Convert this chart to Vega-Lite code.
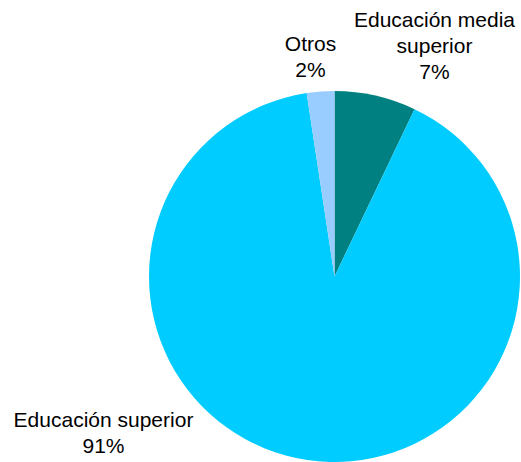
{
  "$schema": "https://vega.github.io/schema/vega-lite/v6.json",
  "width": 371,
  "height": 371,
  "autosize": {"type": "none"},
  "padding": {"left": 149, "top": 91, "right": 1, "bottom": 0},
  "background": "white",
  "config": {"view": {"stroke": null}},
  "data": {
    "values": [
      {"cat": "Educación media superior", "value": 7.1, "label": "Educación media\nsuperior\n7%"},
      {"cat": "Educación superior", "value": 90.5, "label": "Educación superior\n91%"},
      {"cat": "Otros", "value": 2.4, "label": "Otros\n2%"}
    ]
  },
  "layer": [
    {
      "mark": {"type": "arc", "stroke": null},
      "encoding": {
        "theta": {"field": "value", "type": "quantitative", "stack": true},
        "color": {
          "field": "cat",
          "type": "nominal",
          "sort": ["Educación media superior", "Educación superior", "Otros"],
          "scale": {
            "domain": ["Educación media superior", "Educación superior", "Otros"],
            "range": ["#008080", "#00CCFF", "#99CCFF"]
          },
          "legend": null
        },
        "order": {"field": "cat", "type": "nominal", "sort": "ascending"}
      }
    },
    {
      "transform": [{"filter": "datum.cat === 'Educación media superior'"}],
      "mark": {"type": "text", "font": "Liberation Sans", "fontSize": 21, "lineHeight": 26, "lineBreak": "\n", "align": "center", "baseline": "alphabetic", "color": "#000000", "dx": 100, "dy": -250},
      "encoding": {"text": {"field": "label", "type": "nominal"}}
    },
    {
      "transform": [{"filter": "datum.cat === 'Otros'"}],
      "mark": {"type": "text", "font": "Liberation Sans", "fontSize": 21, "lineHeight": 26, "lineBreak": "\n", "align": "center", "baseline": "alphabetic", "color": "#000000", "dx": -24, "dy": -226},
      "encoding": {"text": {"field": "label", "type": "nominal"}}
    },
    {
      "transform": [{"filter": "datum.cat === 'Educación superior'"}],
      "mark": {"type": "text", "font": "Liberation Sans", "fontSize": 21, "lineHeight": 26, "lineBreak": "\n", "align": "center", "baseline": "alphabetic", "color": "#000000", "dx": -231, "dy": 150},
      "encoding": {"text": {"field": "label", "type": "nominal"}}
    }
  ]
}
